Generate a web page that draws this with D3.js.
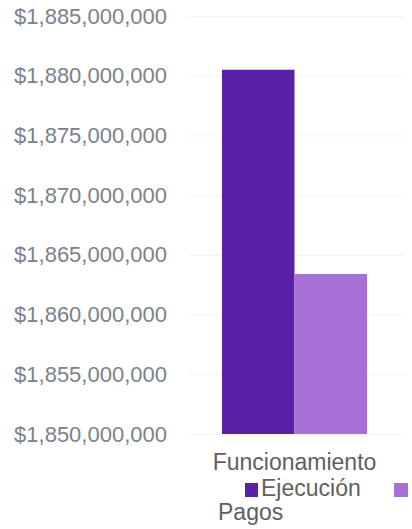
<!DOCTYPE html>
<html>
<head>
<meta charset="utf-8">
<script src="https://cdn.jsdelivr.net/npm/d3@7"></script>
<style>
  html, body { margin: 0; padding: 0; background: #fff; }
  svg { display: block; font-family: "Liberation Sans", Arial, sans-serif; }
</style>
</head>
<body>
<svg id="chart" width="412" height="529"></svg>
<script>
// Budget by category: execution vs. payments
const categories = ["Funcionamiento"];
const seriesNames = ["Ejecución", "Pagos"];
const ejecucion = [1880500000];
const pagos = [1863400000];
const tickValues = [1850000000, 1855000000, 1860000000, 1865000000,
                    1870000000, 1875000000, 1880000000, 1885000000];
const colors = ["#5b20a8", "#a770d6"];

const svg = d3.select("#chart");

const y = d3.scaleLinear()
  .domain([tickValues[0], tickValues[tickValues.length - 1]])
  .range([434, 16]);

const x0 = d3.scaleBand().domain(categories).range([222, 367]).padding(0);
const x1 = d3.scaleBand().domain(seriesNames).range([0, x0.bandwidth()]).padding(0);
const color = d3.scaleOrdinal().domain(seriesNames).range(colors);

// faint horizontal gridlines
svg.append("g")
  .attr("transform", "translate(188,0)")
  .call(d3.axisRight(y).tickValues(tickValues).tickSize(217).tickFormat(""))
  .call(g => g.select(".domain").remove())
  .call(g => g.selectAll("line").attr("stroke", "#f3f3f3").attr("stroke-width", 1));

// y axis labels
svg.append("g")
  .attr("transform", "translate(167,0)")
  .call(d3.axisLeft(y).tickValues(tickValues).tickSize(0).tickPadding(0)
    .tickFormat(d3.format("$,.0f")))
  .call(g => g.select(".domain").remove())
  .call(g => g.selectAll("text")
    .attr("fill", "#7b828c")
    .style("font-size", "22px")
    .style("font-family", "'Liberation Sans', Arial, sans-serif"));

// bars
const rows = categories.map((c, i) => ({
  category: c,
  values: [
    { key: seriesNames[0], value: ejecucion[i] },
    { key: seriesNames[1], value: pagos[i] }
  ]
}));

svg.append("g")
  .selectAll("g")
  .data(rows)
  .join("g")
  .attr("transform", d => `translate(${x0(d.category)},0)`)
  .selectAll("rect")
  .data(d => d.values)
  .join("rect")
  .attr("x", d => x1(d.key))
  .attr("width", x1.bandwidth())
  .attr("y", d => y(d.value))
  .attr("height", d => y.range()[0] - y(d.value))
  .attr("fill", d => color(d.key));

// category label
svg.append("g")
  .selectAll("text")
  .data(categories)
  .join("text")
  .attr("x", d => x0(d) + x0.bandwidth() / 2)
  .attr("y", 470)
  .attr("text-anchor", "middle")
  .attr("fill", "#606060")
  .style("font-size", "23px")
  .text(d => d);

// legend (wraps onto a second line)
const legend = svg.append("g").style("font-size", "23px").attr("fill", "#606060");
legend.append("rect").attr("x", 245).attr("y", 483).attr("width", 13).attr("height", 14)
  .attr("fill", color(seriesNames[0]));
legend.append("text").attr("x", 261).attr("y", 496).text(seriesNames[0]);
legend.append("rect").attr("x", 394).attr("y", 483).attr("width", 14).attr("height", 14)
  .attr("fill", color(seriesNames[1]));
legend.append("text").attr("x", 218).attr("y", 520).text(seriesNames[1]);
</script>
</body>
</html>
